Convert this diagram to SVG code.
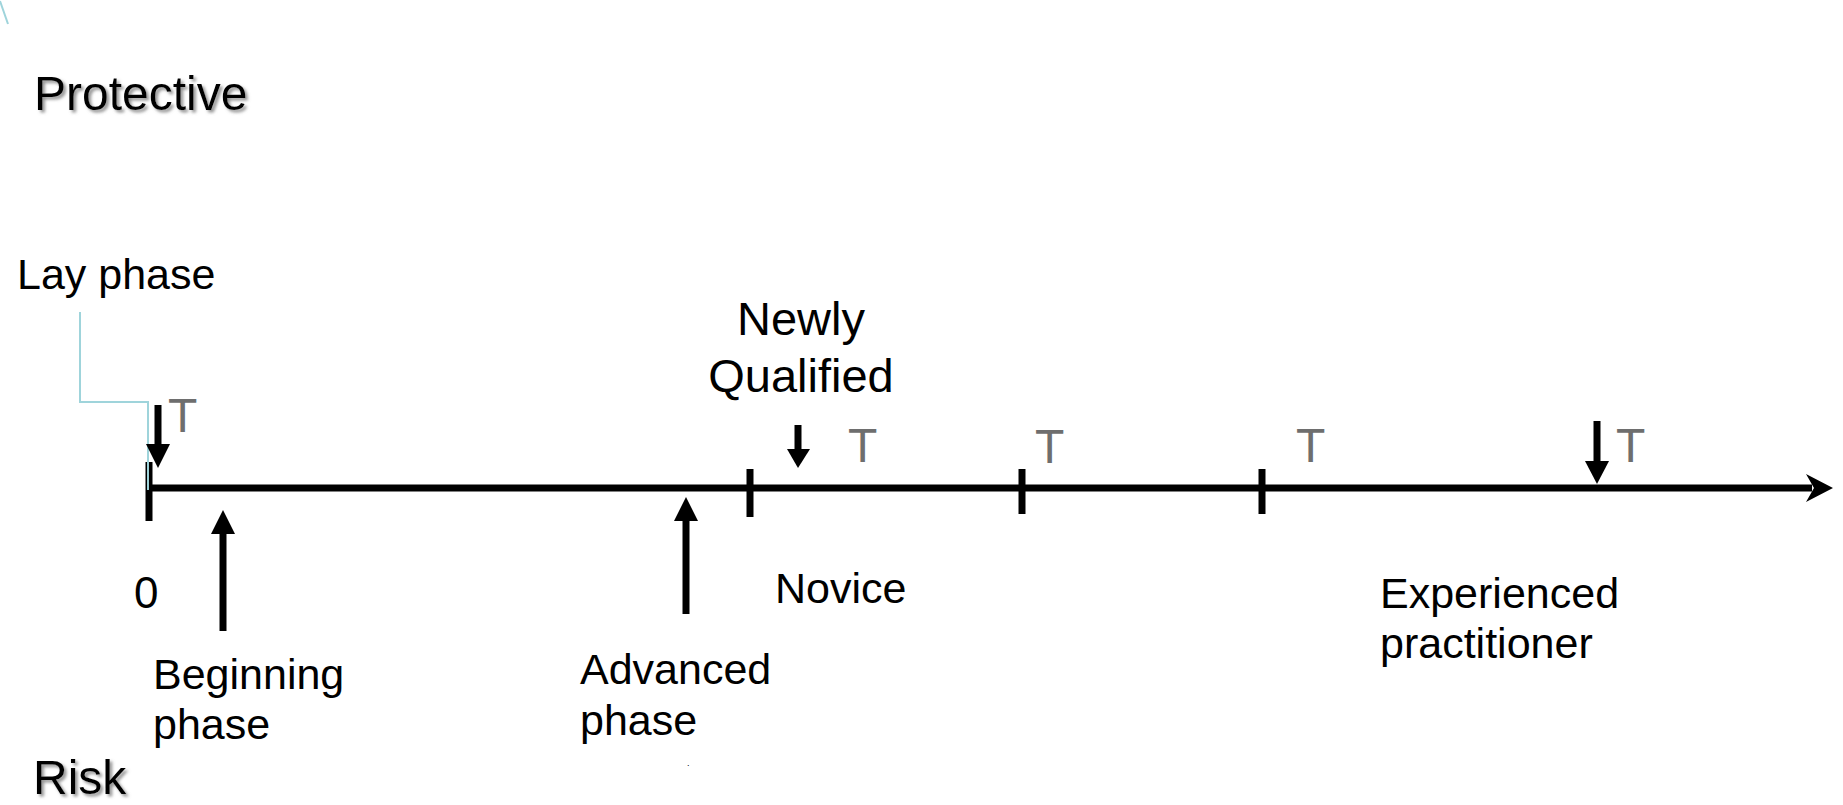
<svg xmlns="http://www.w3.org/2000/svg" width="1843" height="805" viewBox="0 0 1843 805">
  <defs>
    <filter id="soft-shadow" x="-10%" y="-20%" width="130%" height="160%">
      <feDropShadow dx="2.5" dy="2.5" stdDeviation="1.5" flood-color="#777" flood-opacity="0.8"/>
    </filter>
  </defs>
  <style>
    text { font-family: "Liberation Sans", Arial, sans-serif; fill: #000; }
    .lbl { font-size: 43px; }
    .big { font-size: 48px; }
    .nq { font-size: 47px; text-anchor: middle; }
    .t { font-size: 48px; fill: #6e6e6e; }
    .axis { stroke: #000; stroke-width: 7; fill: none; }
    .tick { stroke: #000; stroke-width: 7; }
    .shaft { stroke: #000; stroke-width: 7; }
    .head { fill: #000; }
    .callout { stroke: #9fd4db; stroke-width: 2; fill: none; }
  </style>

  <rect width="1843" height="805" fill="#fff"/>

  <!-- stray corner stroke -->
  <line class="callout" x1="0" y1="1" x2="8" y2="24"/>

  <!-- axis end labels -->
  <g id="protective">
    <text class="big" x="34" y="110" filter="url(#soft-shadow)">Protective</text>
  </g>
  <g id="risk">
    <text class="big" x="33" y="794" filter="url(#soft-shadow)">Risk</text>
  </g>

  <!-- timeline axis and tick marks -->
  <g id="timeline">
    <line class="axis" x1="150" y1="488" x2="1812" y2="488"/>
    <polygon class="head" points="1833,488 1806,474 1814,488 1806,502"/>
    <line class="tick" x1="149" y1="462" x2="149" y2="521"/>
    <line class="tick" x1="750" y1="469" x2="750" y2="517"/>
    <line class="tick" x1="1022" y1="469" x2="1022" y2="514"/>
    <line class="tick" x1="1262" y1="469" x2="1262" y2="514"/>
  </g>

  <!-- connectors: pointer arrows and callout line -->
  <g id="connectors">
    <polyline class="callout" points="80,312 80,402 148,402 148,490"/>
    <!-- downward arrows -->
    <line class="shaft" x1="158" y1="405" x2="158" y2="447"/>
    <polygon class="head" points="146,444 170,444 158,468"/>
    <line class="shaft" x1="798" y1="425" x2="798" y2="452"/>
    <polygon class="head" points="787,449 810,449 798,468"/>
    <line class="shaft" x1="1597" y1="421" x2="1597" y2="464"/>
    <polygon class="head" points="1585,461 1609,461 1597,484"/>
    <!-- upward arrows -->
    <line class="shaft" x1="223" y1="530" x2="223" y2="631"/>
    <polygon class="head" points="223,510 211,534 235,534"/>
    <line class="shaft" x1="686" y1="517" x2="686" y2="614"/>
    <polygon class="head" points="686,497 674,521 698,521"/>
  </g>

  <!-- transition markers -->
  <g id="t-markers">
    <text class="t" x="168" y="432">T</text>
    <text class="t" x="848" y="462">T</text>
    <text class="t" x="1035" y="463">T</text>
    <text class="t" x="1296" y="462">T</text>
    <text class="t" x="1616" y="462">T</text>
  </g>

  <g id="lay-phase">
    <text class="lbl" x="17" y="289">Lay phase</text>
  </g>
  <g id="zero">
    <text x="134" y="608" style="font-size:44px">0</text>
  </g>
  <g id="beginning-phase">
    <text class="lbl" x="153" y="689">Beginning</text>
    <text class="lbl" x="153" y="739">phase</text>
  </g>
  <g id="advanced-phase">
    <text class="lbl" x="580" y="684">Advanced</text>
    <text class="lbl" x="580" y="735">phase</text>
    <text x="687" y="766" style="font-size:9px">.</text>
  </g>
  <g id="newly-qualified">
    <text class="nq" x="801" y="335">Newly</text>
    <text class="nq" x="801" y="392">Qualified</text>
  </g>
  <g id="novice">
    <text class="lbl" x="775" y="603">Novice</text>
  </g>
  <g id="experienced-practitioner">
    <text class="lbl" x="1380" y="608">Experienced</text>
    <text class="lbl" x="1380" y="658">practitioner</text>
  </g>
</svg>
